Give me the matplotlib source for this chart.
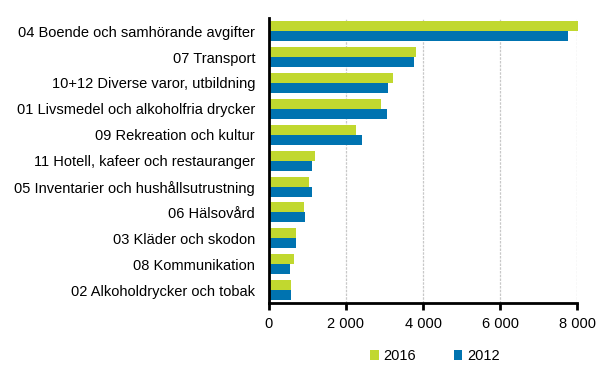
import matplotlib.pyplot as plt
import numpy as np

plt.rcParams['font.family'] = ['Liberation Sans', 'DejaVu Sans']

categories = ['04 Boende och samhörande avgifter', '07 Transport',
              '10+12 Diverse varor, utbildning',
              '01 Livsmedel och alkoholfria drycker',
              '09 Rekreation och kultur',
              '11 Hotell, kafeer och restauranger',
              '05 Inventarier och hushållsutrustning',
              '06 Hälsovård', '03 Kläder och skodon',
              '08 Kommunikation', '02 Alkoholdrycker och tobak']
v2016 = [8030, 3815, 3215, 2905, 2255, 1185, 1030, 900, 690, 640, 560]
v2012 = [7770, 3765, 3085, 3060, 2410, 1105, 1105, 925, 715, 535, 560]
xticks = [0, 2000, 4000, 6000, 8000]
xticklabels = ['0', '2 000', '4 000', '6 000', '8 000']

green = '#c1d82f'
blue = '#0073b0'
fs = 10.5

fig = plt.figure(figsize=(6.14, 3.78), dpi=100)
ax = fig.add_axes([0.438, 0.198, 0.502, 0.754])

y = np.arange(len(categories))
h = 0.385
ax.barh(y - h / 2, v2016, height=h, color=green, label='2016', clip_on=False, zorder=3)
ax.barh(y + h / 2, v2012, height=h, color=blue, label='2012', clip_on=False, zorder=3)

ax.set_ylim(len(categories) - 0.5, -0.5)
ax.set_xlim(0, 8000)
ax.set_yticks(y)
ax.set_yticklabels(categories, fontsize=fs)
ax.set_xticks(xticks)
ax.set_xticklabels(xticklabels, fontsize=fs)
ax.tick_params(axis='y', length=0, pad=10)
ax.tick_params(axis='x', length=5, width=2, direction='out', pad=5)

for s in ['top', 'right']:
    ax.spines[s].set_visible(False)
ax.spines['left'].set_linewidth(2)
ax.spines['bottom'].set_linewidth(2)
ax.spines['left'].set_zorder(4)
ax.xaxis.grid(True, color='#c8c8c8', linestyle=(0, (2, 1)), linewidth=0.9, zorder=0)
ax.set_axisbelow(True)

fig.legend(loc='center', bbox_to_anchor=(0.708, 0.058), ncol=2, frameon=False,
           fontsize=fs, handlelength=0.6, handleheight=0.6, handletextpad=0.3,
           columnspacing=2.6)

fig.savefig('out.png', dpi=100)
